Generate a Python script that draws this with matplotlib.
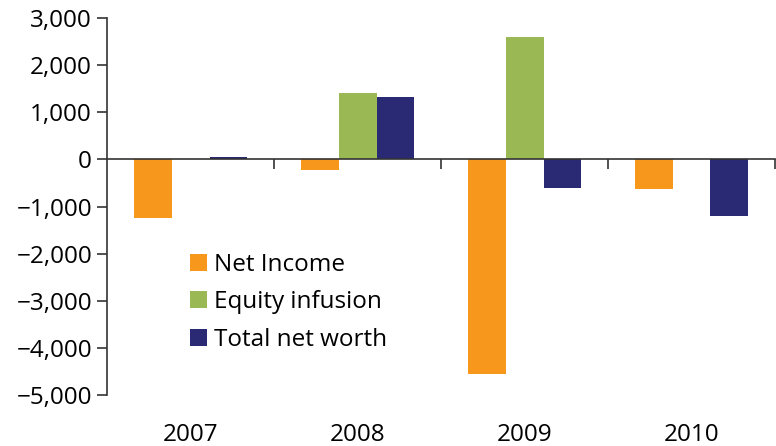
import numpy as np
import matplotlib.pyplot as plt
from matplotlib.ticker import FuncFormatter
from matplotlib.transforms import blended_transform_factory

plt.rcParams['font.family'] = ['Open Sans', 'DejaVu Sans']

# values in millions
years = ['2007', '2008', '2009', '2010']
net_income = [-1250, -230, -4550, -630]
equity_infusion = [0, 1410, 2600, 0]
total_net_worth = [55, 1325, -610, -1205]

series = [
    ('Net Income', net_income, '#F7981D'),
    ('Equity infusion', equity_infusion, '#9AB853'),
    ('Total net worth', total_net_worth, '#292A73'),
]

fig = plt.figure(figsize=(7.76, 4.46), dpi=100)
ax = fig.add_axes([0.1383, 0.1143, 0.8605, 0.8453])

x = np.arange(len(years))
w = 0.226
for i, (name, vals, color) in enumerate(series):
    ax.bar(x + (i - 1) * w, vals, w, color=color, label=name, zorder=2)

ax.set_xlim(-0.5, len(years) - 0.5)
ax.set_ylim(-5000, 3000)
ax.set_yticks(range(-5000, 3001, 1000))
ax.yaxis.set_major_formatter(FuncFormatter(lambda v, p: f'{int(v):,}'.replace('-', '\u2212')))

for s in ['top', 'right']:
    ax.spines[s].set_visible(False)
ax.spines['bottom'].set_position(('data', 0))
for s in ['left', 'bottom']:
    ax.spines[s].set_color('#333333')
    ax.spines[s].set_linewidth(1.2)
    ax.spines[s].set_zorder(3)

fs = 17.5
ax.set_xticks(x + 0.5)
ax.set_xticklabels([])
ax.tick_params(axis='x', direction='out', length=7, width=1.2, color='#333333')
ax.tick_params(axis='y', direction='out', length=7, width=1.2, color='#333333',
               labelsize=fs, pad=4)

# year labels sit below the plot area
trans = blended_transform_factory(ax.transData, ax.transAxes)
for xi, yr in zip(x, years):
    ax.text(xi, -0.105, yr, transform=trans, ha='center', va='center', fontsize=fs)

ax.legend(loc='upper left', bbox_to_anchor=(190 / 776, 1 - 253 / 446),
          bbox_transform=fig.transFigure, frameon=False, fontsize=fs,
          handlelength=0.68, handleheight=0.68, handletextpad=0.3,
          labelspacing=0.55, borderpad=0, borderaxespad=0)

fig.savefig('out.png', dpi=100)
